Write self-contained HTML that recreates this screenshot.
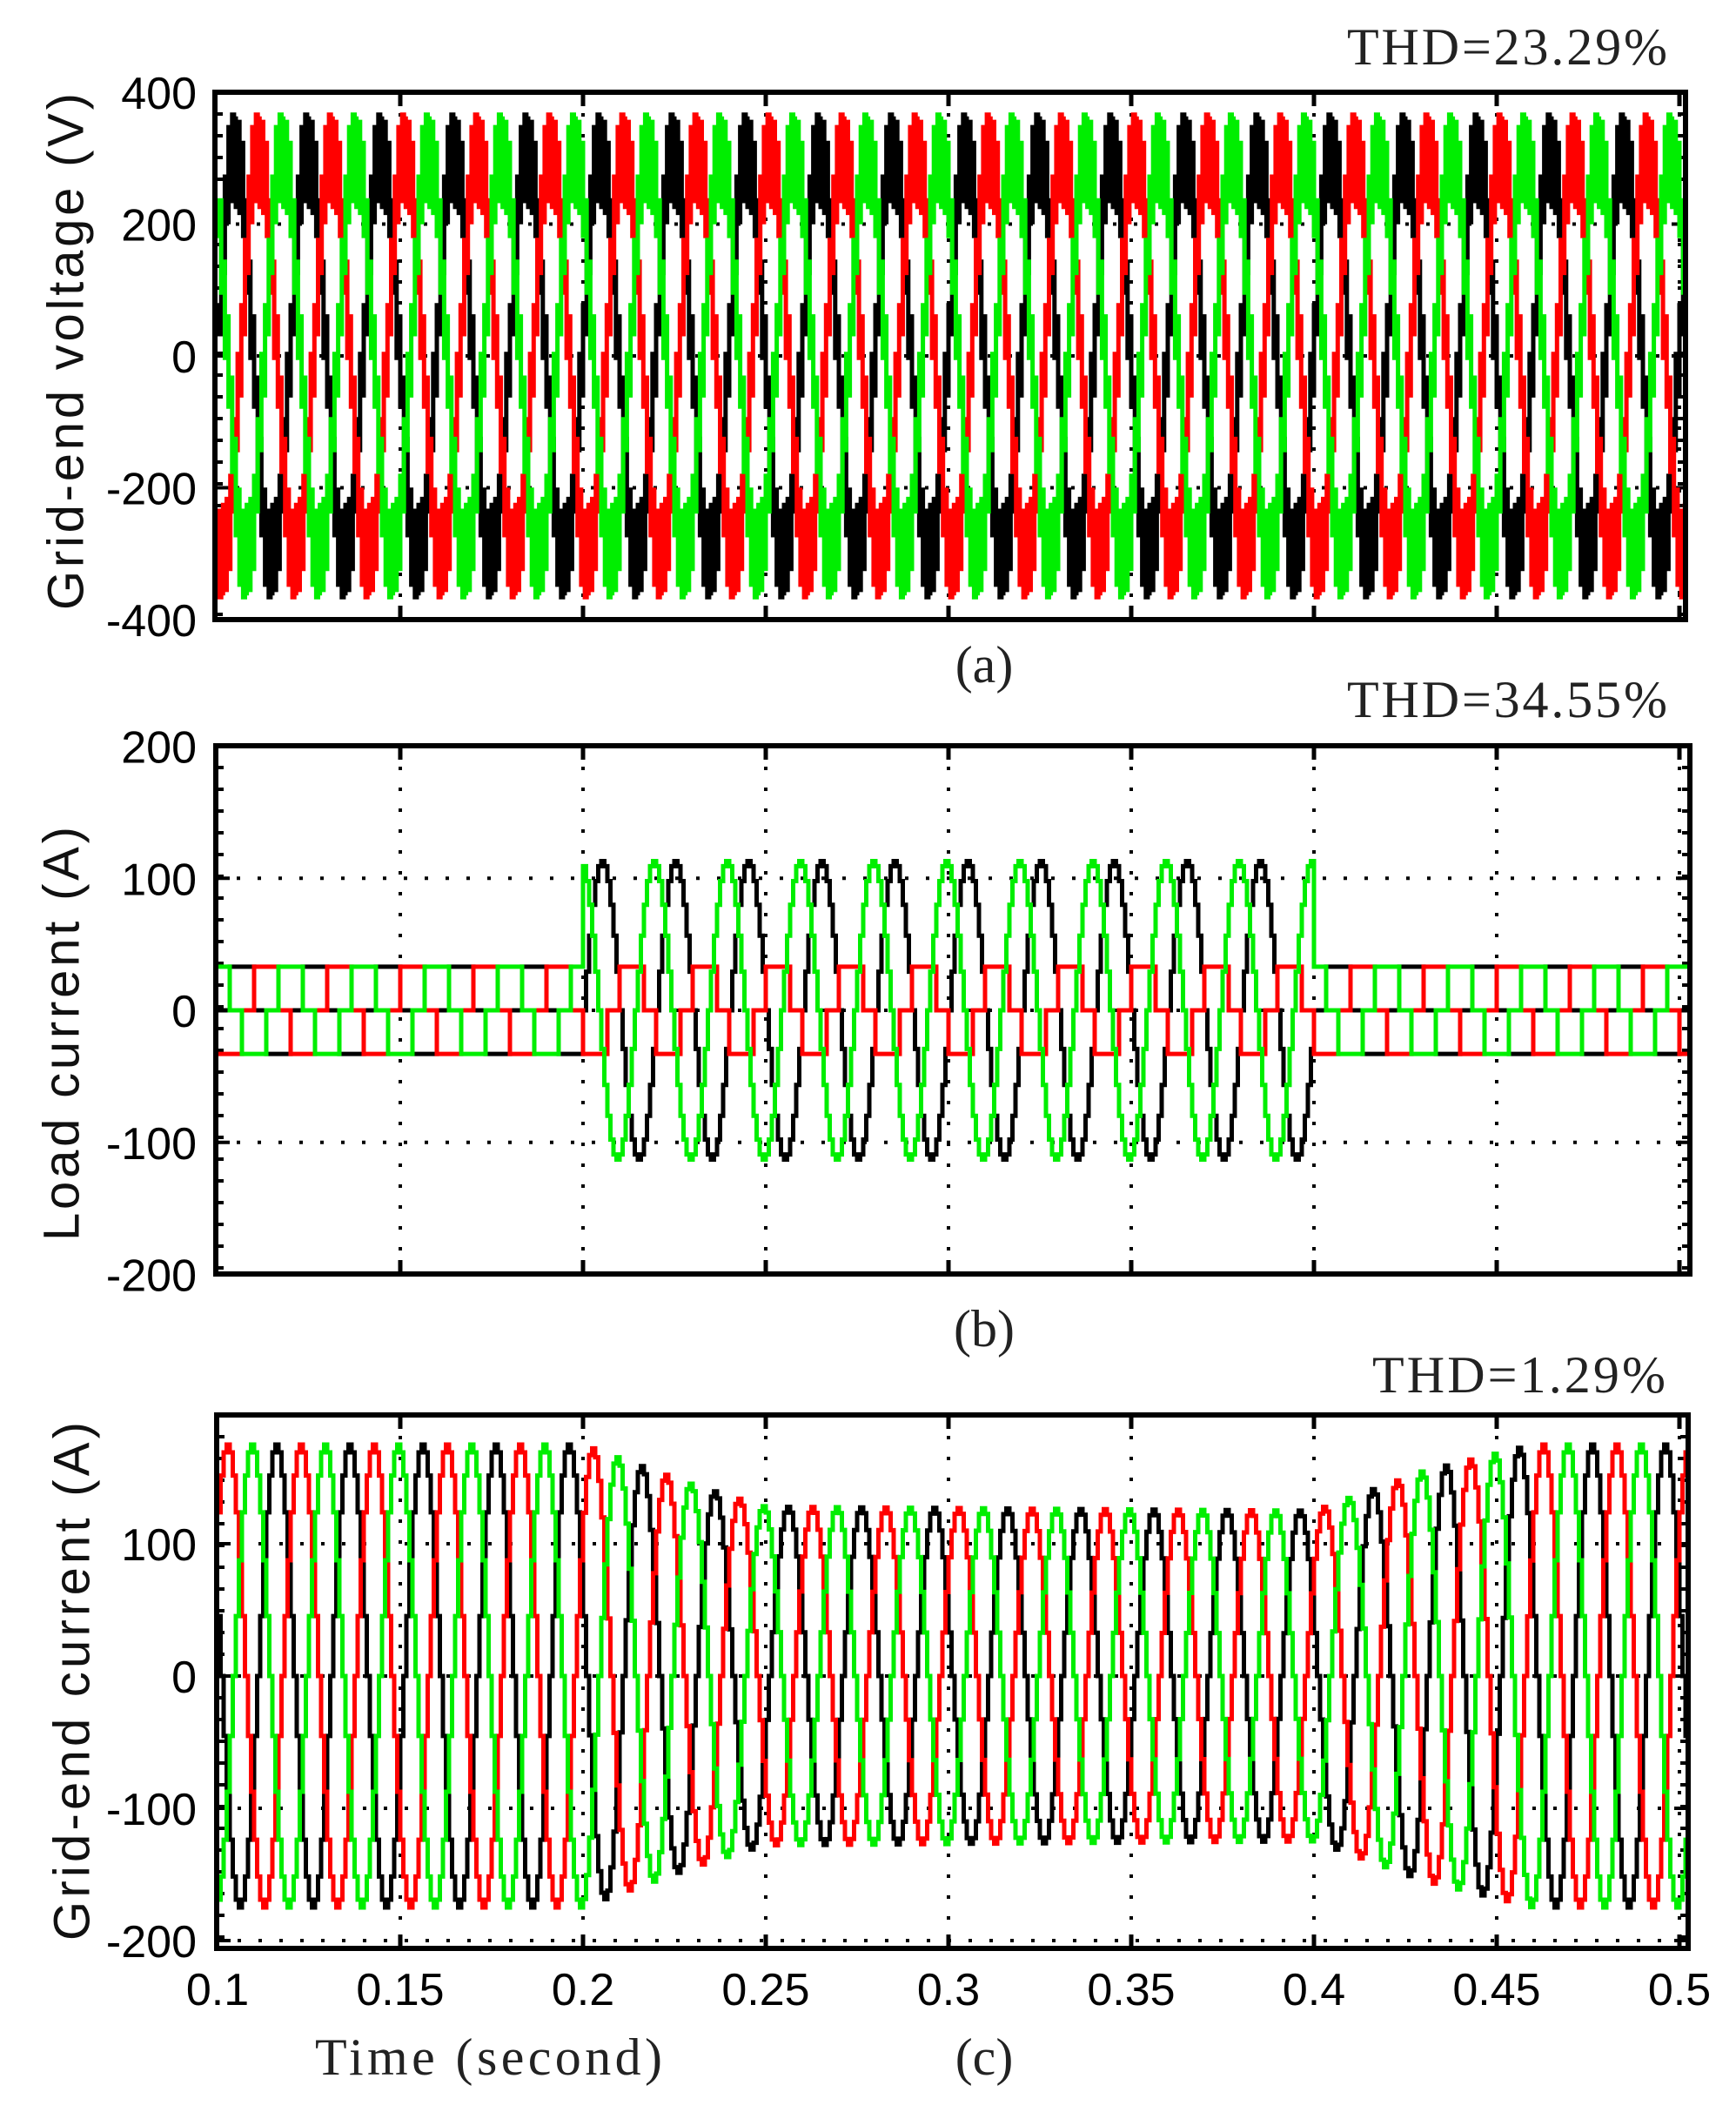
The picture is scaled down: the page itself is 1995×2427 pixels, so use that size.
<!DOCTYPE html>
<html><head><meta charset="utf-8"><style>
html,body{margin:0;padding:0;background:#fff;}
svg{display:block;}
.tick{font-family:"Liberation Sans",sans-serif;font-size:52px;fill:#000;}
.serif{font-family:"Liberation Serif",serif;fill:#222;}
</style></head><body>
<svg id="fig" width="1995" height="2427" viewBox="0 0 1995 2427" xmlns="http://www.w3.org/2000/svg">
<g id="layer"></g>
<text class="serif" x="1916" y="74" text-anchor="end" font-size="60" textLength="368">THD=23.29%</text>
<text class="serif" x="1131" y="784" text-anchor="middle" font-size="60">(a)</text>
<text class="serif" x="1916" y="824" text-anchor="end" font-size="60" textLength="368">THD=34.55%</text>
<text class="serif" x="1131" y="1547" text-anchor="middle" font-size="60">(b)</text>
<text class="serif" x="1914" y="1600" text-anchor="end" font-size="60" textLength="337">THD=1.29%</text>
<text class="serif" x="362" y="2384" font-size="60" textLength="399">Time (second)</text>
<text class="serif" x="1131" y="2384" text-anchor="middle" font-size="60">(c)</text>
</svg>
<script>
// ---- shared x axis data ----
const xTicks = [0.1, 0.15, 0.2, 0.25, 0.3, 0.35, 0.4, 0.45, 0.5];
const xTickLabels = ["0.1", "0.15", "0.2", "0.25", "0.3", "0.35", "0.4", "0.45", "0.5"];
const tStart = 0.1, tEnd = 0.5024, period = 0.02;

// ---- (a) grid-end voltage: one sampled cycle (V), starting at peak ----
const voltCycle = [360,226,355,217,323,182,236,96,143,-3,60,-77,-33,-176,-126,-272,-203,-347,-235,-366,
  -360,-226,-355,-217,-323,-182,-236,-96,-143,3,-60,77,33,176,126,272,203,347,235,366];
const voltPhaseNames = ["black","red","green"];
const voltPeakTimes = [0.1046, 0.1113, 0.1180];
const voltYTicks = [400, 200, 0, -200, -400];

// ---- (b) load current ----
const squareCycle = [1, 1, 0, -1, -1, 0];
const squareAmp = [33, 33, 33];
const squareRiseTimes = [0.1232, 0.1098, 0.1165];
const sineCycle = [1,0.966,0.866,0.707,0.5,0.259,0,-0.259,-0.5,-0.707,-0.866,-0.966,-1,-0.966,-0.866,-0.707,-0.5,-0.259,0,0.259,0.5,0.707,0.866,0.966];
const loadSineAmp = [113, 0, 113];
const loadSinePeaks = [0.2057, 0, 0.1995];
const loadSineWindow = [0.2, 0.4];
const loadYTicks = [200, 100, 0, -100, -200];

// ---- (c) grid-end current ----
const curPeakTimes = [0.1164, 0.1027, 0.1095];
const envTimes = [0.1, 0.2, 0.215, 0.23, 0.25, 0.4, 0.415, 0.43, 0.445, 0.46, 0.5025];
const envAmps  = [175, 175, 160, 145, 128, 125, 140, 155, 165, 175, 175];
const curYTicks = [100, 0, -100, -200];
const curGridY = [100, 0, -100, -200];

const colors = ["#000000", "#ff0000", "#00ee00"];
const NS = "http://www.w3.org/2000/svg";
const layer = document.getElementById("layer");

function mk(tag, attrs, parent) {
  const e = document.createElementNS(NS, tag);
  for (const k in attrs) e.setAttribute(k, attrs[k]);
  (parent || layer).appendChild(e);
  return e;
}

const X0 = 250, XS = 4200;
function xScale(t) { return X0 + (t - 0.1) * XS; }
function makeY(zeroY, pxPerUnit) { return v => zeroY - v * pxPerUnit; }

function cycleValue(arr, t, t0) {
  let ph = ((t - t0) / period) % 1; if (ph < 0) ph += 1;
  return arr[Math.floor(ph * arr.length) % arr.length];
}
function interpEnv(t) {
  for (let i = 0; i < envTimes.length - 1; i++) {
    if (t >= envTimes[i] && t <= envTimes[i + 1]) {
      const f = (t - envTimes[i]) / (envTimes[i + 1] - envTimes[i]);
      return envAmps[i] + f * (envAmps[i + 1] - envAmps[i]);
    }
  }
  return envAmps[envAmps.length - 1];
}

function stairPath(valFn, dt, y) {
  let d = "", prev = null;
  for (let t = tStart; t < tEnd - 1e-9; t += dt) {
    const v = valFn(t + dt / 2);
    const x = xScale(t), py = y(v);
    if (prev === null) d += "M" + x.toFixed(1) + " " + py.toFixed(1);
    else d += "L" + x.toFixed(1) + " " + prev.toFixed(1) + "L" + x.toFixed(1) + " " + py.toFixed(1);
    prev = py;
  }
  d += "L" + xScale(tEnd).toFixed(1) + " " + prev.toFixed(1);
  return d;
}

function frame(name, left, top, right, bottom, y, yTicks, yLabels, gridY) {
  const g = mk("g", {});
  
  
  xTicks.forEach((t, i) => {
    const x = xScale(t);
    if (i > 0 && x < right - 5) {
      const l = mk("line", {x1: x, y1: top, x2: x, y2: bottom, stroke: "#000", "stroke-width": 4, "stroke-dasharray": "4,20"}, g);
      
      
      mk("line", {x1: x, y1: top, x2: x, y2: top + 16, stroke: "#000", "stroke-width": 5}, g);
      mk("line", {x1: x, y1: bottom, x2: x, y2: bottom - 16, stroke: "#000", "stroke-width": 5}, g);
    }
  });
  gridY.forEach(v => {
    const yy = y(v);
    const l = mk("line", {x1: left, y1: yy, x2: right, y2: yy, stroke: "#000", "stroke-width": 4, "stroke-dasharray": "4,20"}, g);
    
    
    mk("line", {x1: left, y1: yy, x2: left + 16, y2: yy, stroke: "#000", "stroke-width": 4}, g);
    mk("line", {x1: right, y1: yy, x2: right - 16, y2: yy, stroke: "#000", "stroke-width": 4}, g);
  });
  for (let yy = top + 25; yy < bottom - 5; yy += 25) {
    mk("line", {x1: left, y1: yy, x2: left + 9, y2: yy, stroke: "#000", "stroke-width": 4}, g);
    mk("line", {x1: right, y1: yy, x2: right - 9, y2: yy, stroke: "#000", "stroke-width": 4}, g);
  }
  yTicks.forEach((v, i) => {
    const tx = mk("text", {x: 226, y: y(v) + 19, "text-anchor": "end", class: "tick"}, g);
    tx.textContent = yLabels[i];
    
    
  });
  return g;
}

function border(name, left, top, right, bottom) {
  const r = mk("rect", {x: left, y: top, width: right - left, height: bottom - top, fill: "none", stroke: "#000", "stroke-width": 6});
  
  
}

function yTitle(text, cx, cy, len, name) {
  const t = mk("text", {x: cx, y: cy, transform: "rotate(-90 " + cx + " " + cy + ")", "text-anchor": "middle",
    "dominant-baseline": "central", "font-family": "Liberation Sans, sans-serif", "font-size": 58, fill: "#111", textLength: len});
  t.textContent = text;
  
  
}

// ===== Panel (a) =====
(function () {
  const top = 106, bottom = 712, left = 247, right = 1937;
  const y = makeY(409, 0.7575);
  frame("voltage", left, top, right, bottom, y, voltYTicks, voltYTicks.map(String), [200, 0, -200]);
  const clip = mk("clipPath", {id: "ca"}); mk("rect", {x: left, y: top, width: right - left, height: bottom - top}, clip);
  voltPhaseNames.forEach((n, i) => {
    const p = mk("path", {d: stairPath(t => cycleValue(voltCycle, t, voltPeakTimes[i] - period / voltCycle.length / 2), period / voltCycle.length, y),
      fill: "none", stroke: colors[i], "stroke-width": 5, "clip-path": "url(#ca)"});
    
    
  });
  border("voltage", left, top, right, bottom);
  yTitle("Grid-end voltage (V)", 76, 404, 594, "y-axis-title-voltage");
})();

// ===== Panel (b) =====
(function () {
  const top = 857, bottom = 1464, left = 248, right = 1942;
  const y = makeY(1161, 1.5175);
  frame("load", left, top, right, bottom, y, loadYTicks, loadYTicks.map(String), [100, 0, -100]);
  const clip = mk("clipPath", {id: "cb"}); mk("rect", {x: left, y: top, width: right - left, height: bottom - top}, clip);
  [0, 1, 2].forEach(i => {
    const fn = t => {
      if (loadSineAmp[i] > 0 && t >= loadSineWindow[0] && t < loadSineWindow[1])
        return loadSineAmp[i] * cycleValue(sineCycle, t, loadSinePeaks[i] - period / sineCycle.length / 2);
      return squareAmp[i] * cycleValue(squareCycle, t, squareRiseTimes[i]);
    };
    const p = mk("path", {d: stairPath(fn, period / 24, y), fill: "none", stroke: colors[i], "stroke-width": 5, "clip-path": "url(#cb)"});
    
    
  });
  border("load", left, top, right, bottom);
  yTitle("Load current (A)", 71, 1188, 476, "y-axis-title-load");
})();

// ===== Panel (c) =====
(function () {
  const top = 1626, bottom = 2239, left = 249, right = 1940;
  const y = makeY(1926, 1.52);
  frame("grid-current", left, top, right, bottom, y, curYTicks, curYTicks.map(String), curGridY);
  const clip = mk("clipPath", {id: "cc"}); mk("rect", {x: left, y: top, width: right - left, height: bottom - top}, clip);
  [0, 1, 2].forEach(i => {
    const fn = t => interpEnv(t) * cycleValue(sineCycle, t, curPeakTimes[i] - period / sineCycle.length / 2);
    const p = mk("path", {d: stairPath(fn, period / 24, y), fill: "none", stroke: colors[i], "stroke-width": 5, "clip-path": "url(#cc)"});
    
    
  });
  border("grid-current", left, top, right, bottom);
  xTicks.forEach((t, i) => {
    const tx = mk("text", {x: xScale(t), y: 2304, "text-anchor": "middle", class: "tick"});
    tx.textContent = xTickLabels[i];
    
    
  });
  yTitle("Grid-end current (A)", 83, 1932, 596, "y-axis-title-current");
})();
</script>
</body></html>
